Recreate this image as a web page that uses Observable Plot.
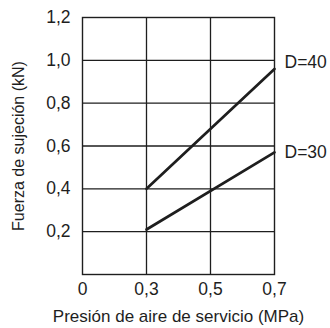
<!DOCTYPE html>
<html><head><meta charset="utf-8">
<script src="https://cdn.jsdelivr.net/npm/d3@7"></script>
<script src="https://cdn.jsdelivr.net/npm/@observablehq/plot@0.6"></script>
<style>
body{margin:0;background:#fff;}
</style></head>
<body><div id="chart"></div>
<script>
const pressure = [0.3, 0.7];
const force40 = [0.40, 0.96];
const force30 = [0.21, 0.57];
const seriesNames = ["D=40", "D=30"];
const xTicks = [0, 0.3, 0.5, 0.7];
const yTicks = [0.2, 0.4, 0.6, 0.8, 1.0, 1.2];
const xGrid = [0.3, 0.5];
const yGrid = [0.2, 0.4, 0.6, 0.8, 1.0];

const rows = [];
[force40, force30].forEach((vals, i) => vals.forEach((v, j) => rows.push({series: seriesNames[i], x: pressure[j], y: v})));
const lastX = pressure[pressure.length - 1];
const end40 = rows.filter(d => d.x === lastX && d.series === seriesNames[0]);
const end30 = rows.filter(d => d.x === lastX && d.series === seriesNames[1]);

const W = 330, H = 328, mL = 82, mR = 56, mT = 17, mB = 54;
const fmt = d => d === 0 ? "0" : d.toFixed(1).replace(".", ",");
const ink = "#1e1e1e";
const FS = 17.5;

const chart = Plot.plot({
  width: W, height: H,
  marginLeft: mL, marginRight: mR, marginTop: mT, marginBottom: mB,
  style: {fontFamily: "'Liberation Sans', Arial, sans-serif", fontSize: "17px", color: ink, background: "white"},
  x: {type: "linear", domain: [0, 0.3, 0.7], range: [mL, mL + (W - mL - mR) * 64 / 192, W - mR]},
  y: {domain: [0, 1.2]},
  marks: [
    Plot.ruleX(xGrid, {stroke: ink, strokeWidth: 1.3}),
    Plot.ruleY(yGrid, {stroke: ink, strokeWidth: 1.3}),
    Plot.frame({stroke: ink, strokeWidth: 1.4}),
    Plot.line(rows, {x: "x", y: "y", z: "series", stroke: ink, strokeWidth: 2.7}),
    Plot.text(end40, {x: "x", y: "y", text: "series", textAnchor: "start", dx: 10, dy: -7, fill: ink, fontSize: FS}),
    Plot.text(end30, {x: "x", y: "y", text: "series", textAnchor: "start", dx: 10, dy: 0, fill: ink, fontSize: FS}),
    Plot.axisX(xTicks, {tickFormat: fmt, tickSize: 0, tickPadding: 8, fontSize: FS, label: null}),
    Plot.axisX({label: "Presión de aire de servicio (MPa)", labelAnchor: "center", labelArrow: "none", labelOffset: 47, ticks: [], fontSize: 17}),
    Plot.axisY(yTicks, {tickFormat: fmt, tickSize: 0, tickPadding: 12, fontSize: FS, label: null}),
    Plot.axisY({label: "Fuerza de sujeción (kN)", labelAnchor: "center", labelArrow: "none", labelOffset: 70, ticks: [], fontSize: 16})
  ]
});
document.getElementById("chart").appendChild(chart);
</script></body></html>
